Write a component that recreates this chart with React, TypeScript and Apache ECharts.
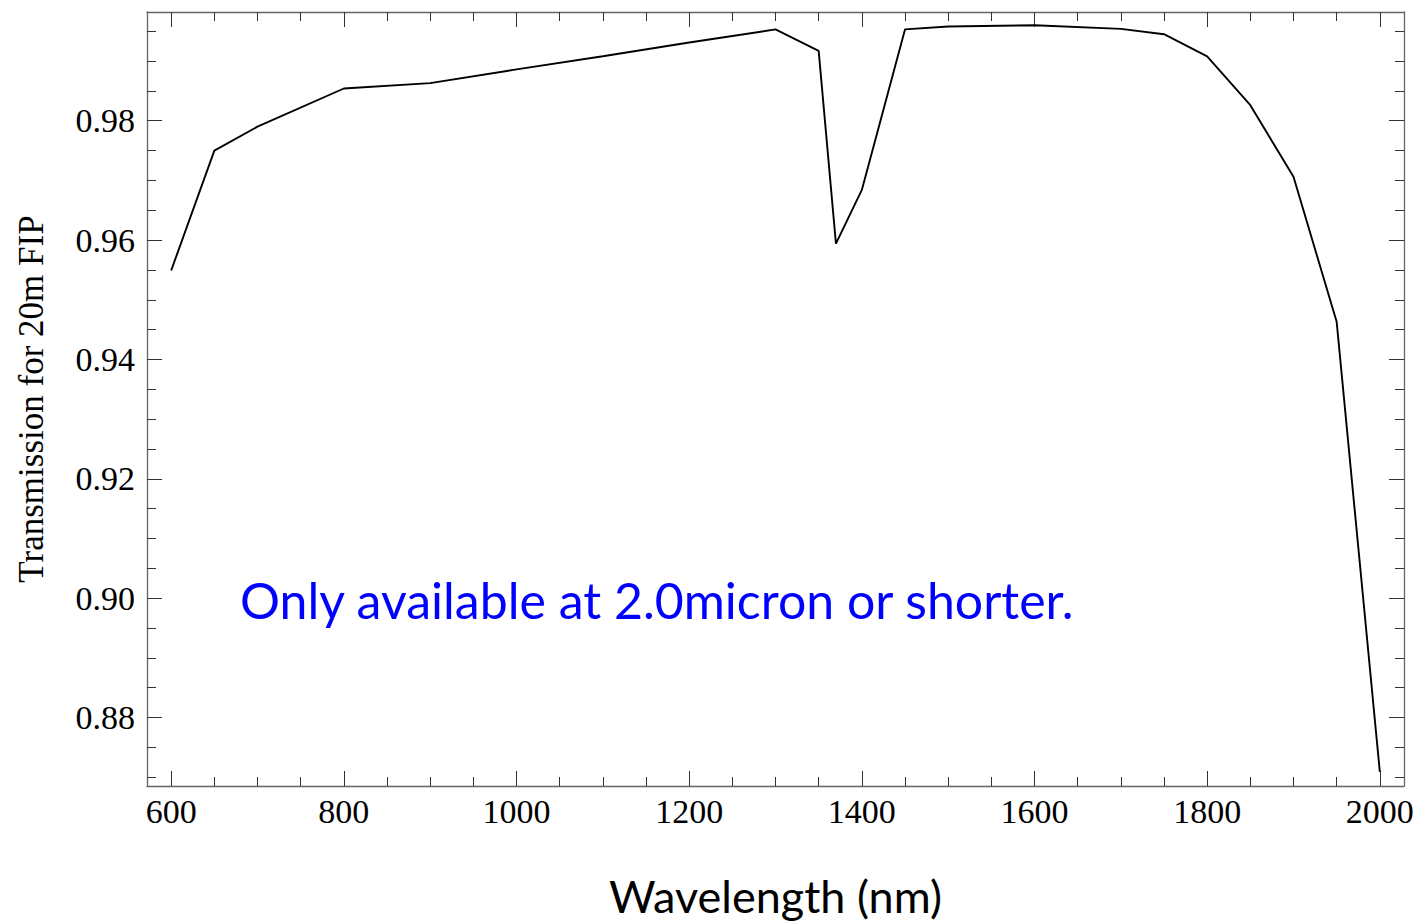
import React, { useEffect, useRef } from "react";
import * as echarts from "echarts";

const wavelengths = [600, 650, 700, 800, 900, 1000, 1100, 1200, 1300, 1350, 1370, 1400, 1450, 1500, 1600, 1700, 1750, 1800, 1850, 1900, 1950, 2000];
const transmission = [0.9549, 0.975, 0.979, 0.9854, 0.9863, 0.9886, 0.9908, 0.9931, 0.9953, 0.9917, 0.9594, 0.9684, 0.9953, 0.9958, 0.996, 0.9954, 0.9945, 0.9908, 0.9826, 0.9706, 0.9463, 0.8709];

const xMajorTicks = [600, 800, 1000, 1200, 1400, 1600, 1800, 2000];
const xMinorTicks = [600, 650, 700, 750, 800, 850, 900, 950, 1000, 1050, 1100, 1150, 1200, 1250, 1300, 1350, 1400, 1450, 1500, 1550, 1600, 1650, 1700, 1750, 1800, 1850, 1900, 1950, 2000];
const yMajorTicks = [0.88, 0.9, 0.92, 0.94, 0.96, 0.98];
const yMinorTicks = [0.87, 0.875, 0.88, 0.885, 0.89, 0.895, 0.9, 0.905, 0.91, 0.915, 0.92, 0.925, 0.93, 0.935, 0.94, 0.945, 0.95, 0.955, 0.96, 0.965, 0.97, 0.975, 0.98, 0.985, 0.99, 0.995];

const xTitle = "Wavelength (nm)";
const yTitle = "Transmission for 20m FIP";
const note = "Only available at 2.0micron or shorter.";

const X_MIN = 572;
const X_MAX = 2028;
const Y_MIN = 0.86852;
const Y_MAX = 0.99822;

const SERIF = "'Liberation Serif', 'Times New Roman', serif";
const SANS = "Lato, 'Open Sans', sans-serif";
const LINE_COLOR = "#666";
const TICK_COLOR = "#333";

function tickAxis(kind: "x" | "y", position: string, values: number[], len: number, showLine: boolean, labels: boolean) {
  const base: any = {
    type: "value",
    position,
    min: kind === "x" ? X_MIN : Y_MIN,
    max: kind === "x" ? X_MAX : Y_MAX,
    splitLine: { show: false },
    axisLine: { show: showLine, onZero: false, lineStyle: { color: LINE_COLOR, width: 1.3 } },
    axisTick: {
      show: true,
      inside: true,
      length: len,
      customValues: values,
      lineStyle: { color: TICK_COLOR, width: 1 },
    },
    axisLabel: labels
      ? {
          show: true,
          customValues: values,
          fontFamily: SERIF,
          fontSize: 34,
          color: "#000",
          margin: kind === "x" ? 8 : 12,
          formatter: kind === "x" ? (v: number) => String(Math.round(v)) : (v: number) => v.toFixed(2),
        }
      : { show: false },
  };
  return base;
}

export default function App() {
  const ref = useRef<HTMLDivElement>(null);
  useEffect(() => {
    if (!ref.current) return;
    const chart = echarts.init(ref.current, null, { renderer: "svg" });
    const xMain = tickAxis("x", "bottom", xMajorTicks, 15, true, true);
    xMain.name = xTitle;
    xMain.nameLocation = "middle";
    xMain.nameGap = 87;
    xMain.nameTextStyle = { fontFamily: SANS, fontSize: 45, color: "#000" };
    const yMain = tickAxis("y", "left", yMajorTicks, 15, true, true);
    yMain.name = yTitle;
    yMain.nameLocation = "middle";
    yMain.nameGap = 98;
    yMain.nameTextStyle = { fontFamily: SERIF, fontSize: 35, color: "#000" };

    chart.setOption({
      animation: false,
      backgroundColor: "#fff",
      grid: { left: 147, right: 14, top: 12, bottom: 135, containLabel: false },
      xAxis: [
        xMain,
        tickAxis("x", "top", xMajorTicks, 15, true, false),
        tickAxis("x", "bottom", xMinorTicks, 9, false, false),
        tickAxis("x", "top", xMinorTicks, 9, false, false),
      ],
      yAxis: [
        yMain,
        tickAxis("y", "right", yMajorTicks, 15, true, false),
        tickAxis("y", "left", yMinorTicks, 9, false, false),
        tickAxis("y", "right", yMinorTicks, 9, false, false),
      ],
      series: [
        {
          type: "line",
          xAxisIndex: 0,
          yAxisIndex: 0,
          data: wavelengths.map((w, i) => [w, transmission[i]]),
          symbol: "none",
          lineStyle: { color: "#000", width: 1.9 },
        },
      ],
      graphic: [
        {
          type: "text",
          left: 240,
          top: 575,
          style: {
            text: note,
            fill: "#0000ff",
            fontFamily: SANS,
            fontSize: 50,
          },
        },
      ],
    });
    return () => chart.dispose();
  }, []);
  return (
    <div
      ref={ref}
      style={{ position: "fixed", left: 0, top: 0, width: 1418, height: 923, background: "#fff" }}
    />
  );
}
